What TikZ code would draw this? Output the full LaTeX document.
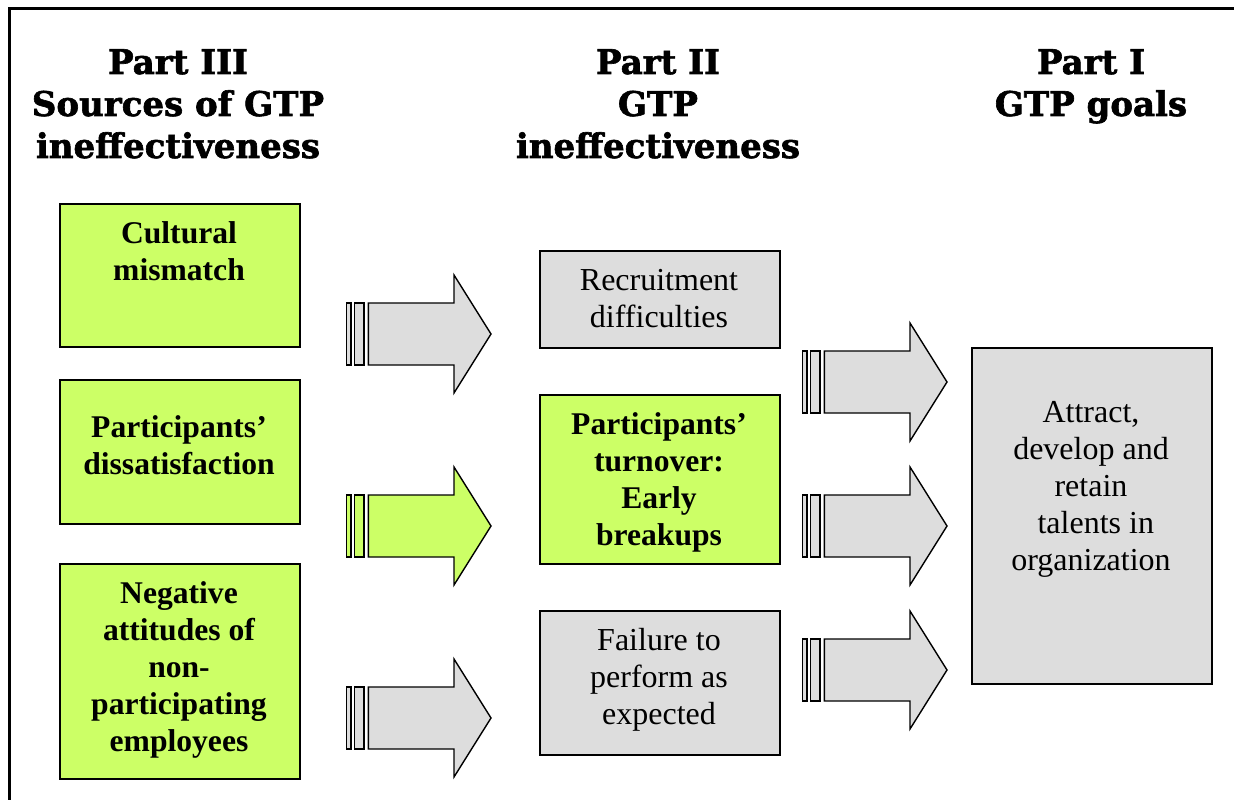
\documentclass[tikz,border=0pt]{standalone}
\usepackage{fontspec}
\setmainfont{Liberation Serif}
\newfontfamily\headfont[BoldFeatures={FakeBold=1.8}]{DejaVu Serif}
\definecolor{boxgreen}{HTML}{CCFF66}
\definecolor{boxgray}{HTML}{DDDDDD}
\newcommand\gtparrow[3]{%
  \begin{scope}[shift={(#1,#2)}]
    \draw[arrline, fill=#3] (0.7,-31) rectangle (4.8,31);
    \draw[arrline, fill=#3] (8.7,-31) rectangle (17.8,31);
    \draw[arrline, fill=#3] (22.3,-31) -- (108,-31) -- (108,-59) -- (145,0)
      -- (108,59) -- (108,31) -- (22.3,31) -- cycle;
  \end{scope}}
\begin{document}
\begin{tikzpicture}[x=1pt,y=-1pt,
  box/.style={draw=black, line width=1.5pt, inner sep=0pt, anchor=north west},
  arrline/.style={draw=black, line width=1.4pt, line join=miter},
  boldtxt/.style={align=center, inner sep=0pt, anchor=north,
    font=\fontsize{31.6}{37}\selectfont\bfseries},
  regtxt/.style={align=center, inner sep=0pt, anchor=north,
    font=\fontsize{32}{37}\selectfont},
  headtxt/.style={align=center, inner sep=0pt, anchor=north,
    font=\headfont\fontsize{34}{42}\selectfont\bfseries}]
\useasboundingbox (0,0) rectangle (1234,800);
\fill[white] (0,0) rectangle (1234,800);
\draw[line width=3pt] (9,800) -- (9,9) -- (1234,9);

% headings
\node[headtxt] (h3) at (178,49) {Part III\\Sources of GTP\\ineffectiveness};
\node[headtxt] (h2) at (658,49) {Part II\\GTP\\ineffectiveness};
\node[headtxt] (h1) at (1091,49) {Part I\\GTP goals};

% left column
\node[box, fill=boxgreen, minimum width=240pt, minimum height=143pt] (l1) at (59,203) {};
\node[boldtxt] (l1t) at (179,221) {Cultural\\mismatch};
\node[box, fill=boxgreen, minimum width=240pt, minimum height=144pt] (l2) at (59,379) {};
\node[boldtxt] (l2t) at (179,415) {Participants’\\dissatisfaction};
\node[box, fill=boxgreen, minimum width=240pt, minimum height=215pt] (l3) at (59,563) {};
\node[boldtxt] (l3t) at (179,581) {Negative\\attitudes of\\non-\\participating\\employees};

% middle column
\node[box, fill=boxgray, minimum width=240pt, minimum height=97pt] (m1) at (539,250) {};
\node[regtxt] (m1t) at (659,269) {Recruitment\\difficulties};
\node[box, fill=boxgreen, minimum width=240pt, minimum height=169pt] (m2) at (539,394) {};
\node[boldtxt] (m2t) at (659,412) {Participants’\\turnover:\\Early\\breakups};
\node[box, fill=boxgray, minimum width=240pt, minimum height=144pt] (m3) at (539,610) {};
\node[regtxt] (m3t) at (659,628) {Failure to\\perform as\\expected};

% right column
\node[box, fill=boxgray, minimum width=240pt, minimum height=336pt] (r1) at (971,347) {};
\node[regtxt] (r1t) at (1091,401) {Attract,\\develop and\\retain\\\hspace*{0.3em}talents in\\organization};

% block arrows
\gtparrow{346}{334}{boxgray}
\gtparrow{346}{526}{boxgreen}
\gtparrow{346}{718}{boxgray}
\gtparrow{802}{382}{boxgray}
\gtparrow{802}{526}{boxgray}
\gtparrow{802}{670}{boxgray}
\end{tikzpicture}
\end{document}
